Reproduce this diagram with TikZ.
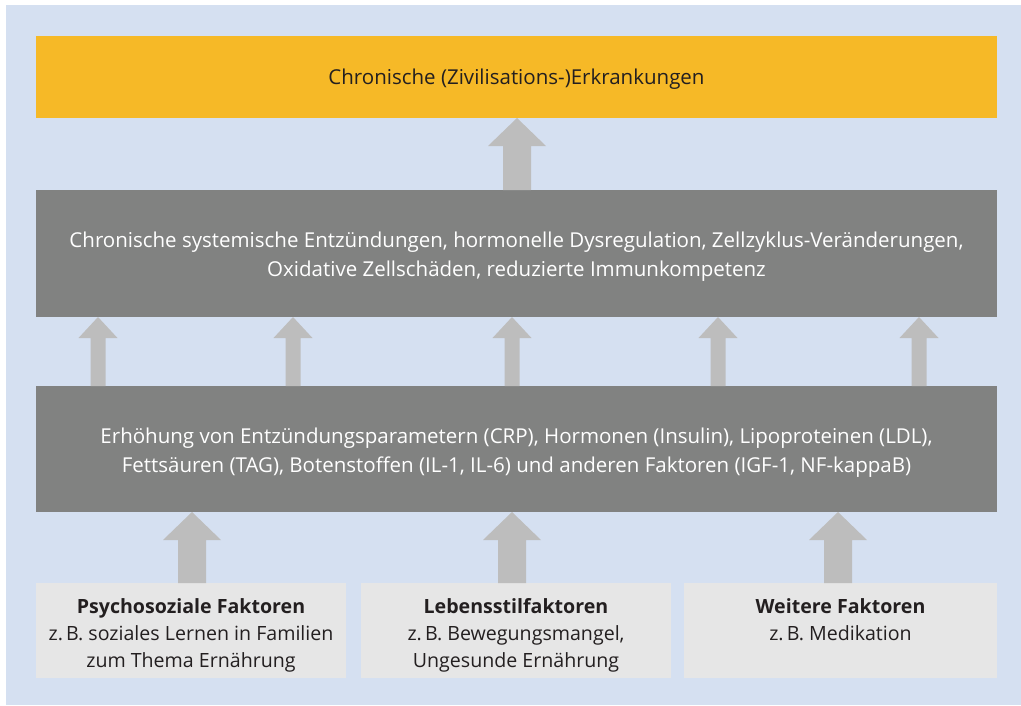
\documentclass[tikz,border=0pt]{standalone}
\usepackage{fontspec}
\setmainfont{Open Sans}
\usetikzlibrary{calc}
\definecolor{bgblue}{HTML}{D5E0F1}
\definecolor{topor}{HTML}{F6B927}
\definecolor{darkg}{HTML}{818281}
\definecolor{arrg}{HTML}{BDBDBD}
\definecolor{lightg}{HTML}{E6E6E6}
\definecolor{txt}{HTML}{231F20}
\tikzset{
  x=1pt, y=-1pt,
  box/.style={inner sep=0pt, outer sep=0pt},
  orangebox/.style={box, fill=topor, minimum width=961pt, minimum height=82pt},
  graybox/.style={box, fill=darkg, minimum width=961pt},
  factorbox/.style={box, fill=lightg, minimum height=95pt},
  label/.style={inner sep=0pt, align=center, font=\fontsize{20.5}{29}\selectfont},
  darklabel/.style={label, text=txt},
  whitelabel/.style={label, text=white},
  factorlabel/.style={label, text=txt, font=\fontsize{19.6}{27}\selectfont},
}
% #1 x, #2 lower node, #3 upper node, #4 shaft width, #5 head width, #6 head length
\newcommand\fatarrow[6]{%
  \path (#2.north -| #1,0) coordinate (as) (#3.south -| #1,0) coordinate (at);
  \fill[arrg] ($(as)+(-#4/2,0)$) -- ($(at)+(-#4/2,#6)$) -- ($(at)+(-#5/2,#6)$) -- (at)
    -- ($(at)+(#5/2,#6)$) -- ($(at)+(#4/2,#6)$) -- ($(as)+(#4/2,0)$) -- cycle;
}
\begin{document}
\begin{tikzpicture}
\useasboundingbox (0,0) rectangle (1021,705);
\fill[white] (0,0) rectangle (1021,705);
\fill[bgblue] (6,5) rectangle (1021,705);

\node[orangebox] (top) at (516.5,77) {};
\node[graybox, minimum height=127pt] (mid) at (516.5,253.5) {};
\node[graybox, minimum height=126pt] (low) at (516.5,449) {};
\node[factorbox, minimum width=310pt] (f1) at (191,630.5) {};
\node[factorbox, minimum width=310pt] (f2) at (516,630.5) {};
\node[factorbox, minimum width=313pt] (f3) at (840.5,630.5) {};

\node[darklabel] (topt) at ([yshift=-2pt]top.center) {Chronische (Zivilisations-)Erkrankungen};
\node[whitelabel] (midt) at ([yshift=-3pt]mid.center)
  {Chronische systemische Entzündungen, hormonelle Dysregulation, Zellzyklus-Veränderungen,\\Oxidative Zellschäden, reduzierte Immunkompetenz};
\node[whitelabel] (lowt) at ([yshift=-4pt]low.center)
  {Erhöhung von Entzündungsparametern (CRP), Hormonen (Insulin), Lipoproteinen (LDL),\\Fettsäuren (TAG), Botenstoffen (IL-1, IL-6) und anderen Faktoren (IGF-1, NF-kappaB)};
\node[factorlabel] (f1t) at ([yshift=-6.5pt]f1.center)
  {\textbf{Psychosoziale Faktoren}\\z.\,B. soziales Lernen in Familien\\zum Thema Ernährung\strut};
\node[factorlabel] (f2t) at ([yshift=-6.5pt]f2.center)
  {\textbf{Lebensstilfaktoren}\\z.\,B. Bewegungsmangel,\\Ungesunde Ernährung\strut};
\node[factorlabel] (f3t) at ([yshift=-6.5pt]f3.center)
  {\textbf{Weitere Faktoren}\\z.\,B. Medikation\\\strut};

\fatarrow{517}{mid}{top}{28}{58}{28}
\foreach \xx in {98,293,512,718,919}{\fatarrow{\xx}{low}{mid}{15}{39}{21}}
\fatarrow{192}{f1}{low}{28}{58}{28}
\fatarrow{512}{f2}{low}{28}{58}{28}
\fatarrow{838}{f3}{low}{28}{58}{28}
\end{tikzpicture}
\end{document}
